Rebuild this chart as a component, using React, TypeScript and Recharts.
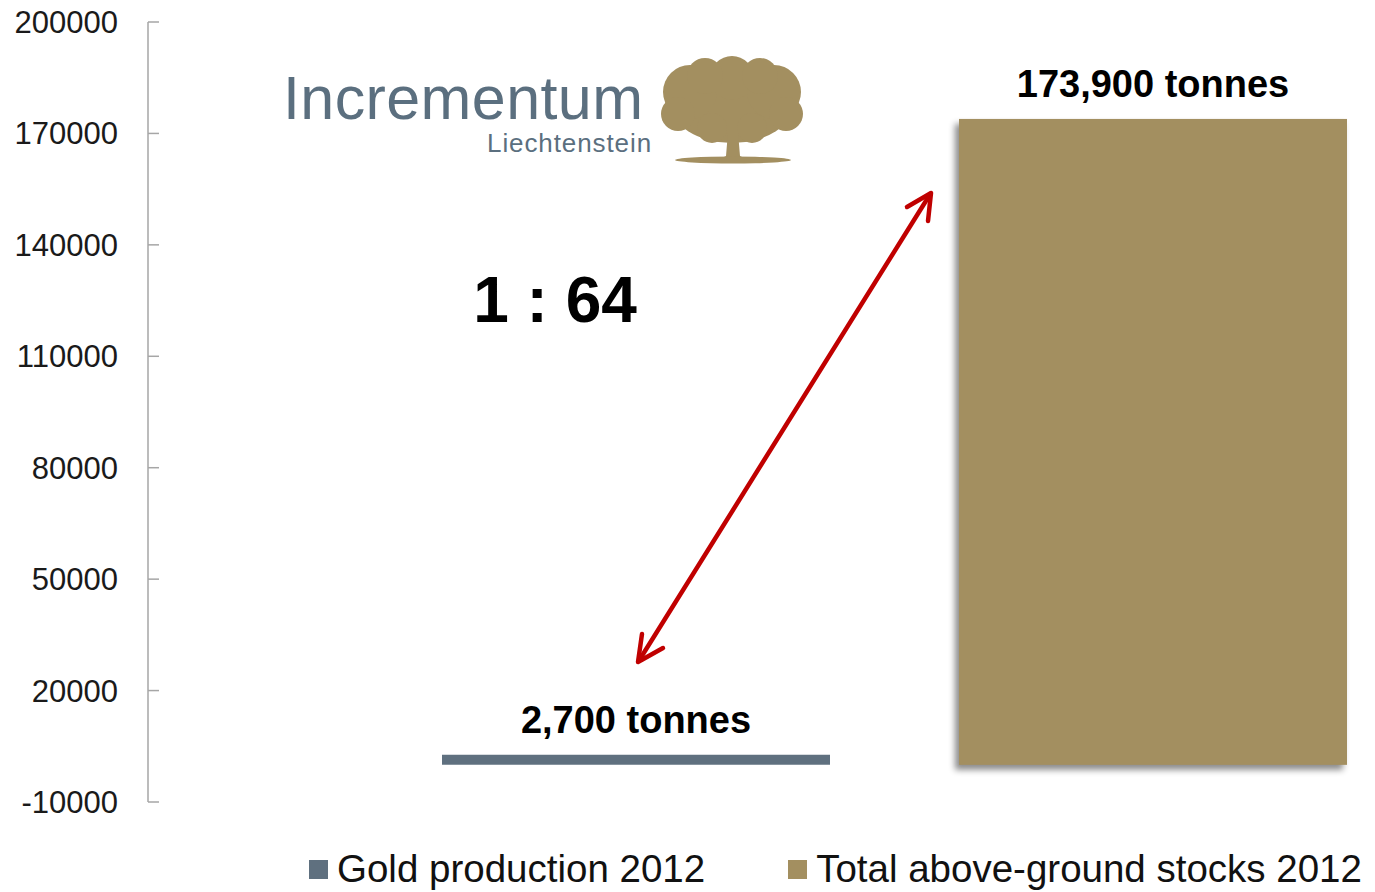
import React from "react";
import { BarChart, Bar, XAxis, YAxis, LabelList, Legend } from "recharts";

const categories = ["2012"];
const productionValues = [2700];
const stockValues = [173900];
const seriesNames = ["Gold production 2012", "Total above-ground stocks 2012"];
const yTicks = [-10000, 20000, 50000, 80000, 110000, 140000, 170000, 200000];
const ratioText = "1 : 64";

const data = categories.map((c, i) => ({
  name: c,
  production: productionValues[i],
  stocks: stockValues[i],
}));

const FONT = "'Liberation Sans', Arial, sans-serif";
const GREY = "#5f707f";
const TAN = "#a38f60";
const AXIS = "#a6a6a6";
const RED = "#c00000";

function YTick({ x, y, payload }: any) {
  return (
    <g>
      <line x1={x + 30} x2={x + 41} y1={y} y2={y} stroke={AXIS} strokeWidth={1.5} />
      <text x={x} y={y} dy={11} textAnchor="end" fontSize={31} fill="#1a1a1a" fontFamily={FONT}>
        {payload.value}
      </text>
    </g>
  );
}

const ShadowBar = (p: any) => (
  <rect
    x={p.x}
    y={p.y}
    width={p.width}
    height={p.height}
    fill={p.fill}
    style={{ filter: "drop-shadow(-4px 5px 3px rgba(0,0,0,0.45))" }}
  />
);

function LegendBox({ payload }: any) {
  return (
    <div style={{ display: "flex", alignItems: "center", height: 40, fontFamily: FONT }}>
      {(payload || []).map((e: any, i: number) => (
        <div key={e.value} style={{ display: "flex", alignItems: "center", marginRight: i === 0 ? 83 : 0 }}>
          <span style={{ width: 19, height: 19, background: e.color, marginRight: 9, display: "inline-block" }} />
          <span style={{ fontSize: 38.5, lineHeight: "40px", color: "#111" }}>{e.value}</span>
        </div>
      ))}
    </div>
  );
}

const fmt = (v: any) => `${Number(v).toLocaleString("en-US")} tonnes`;
const labelStyle = { fontSize: 38, fontWeight: 700, fill: "#000", fontFamily: FONT };

export default function App() {
  return (
    <div style={{ position: "relative", width: 1367, height: 884, fontFamily: FONT, overflow: "hidden" }}>
      <BarChart
        width={1367}
        height={884}
        data={data}
        margin={{ top: 14, right: 0, bottom: 90, left: 0 }}
        barGap={129}
      >
        <XAxis dataKey="name" hide padding={{ left: 265, right: 0 }} />
        <YAxis
          width={140}
          domain={[-10000, 200000]}
          ticks={yTicks}
          interval={0}
          tickSize={0}
          tickMargin={30}
          tickLine={false}
          axisLine={{ stroke: AXIS, strokeWidth: 1.5 }}
          tick={<YTick />}
        />
        <Bar dataKey="production" name={seriesNames[0]} fill={GREY} barSize={388} isAnimationActive={false}>
          <LabelList dataKey="production" position="top" offset={22} formatter={fmt} style={labelStyle} />
        </Bar>
        <Bar
          dataKey="stocks"
          name={seriesNames[1]}
          fill={TAN}
          barSize={388}
          shape={ShadowBar}
          isAnimationActive={false}
        >
          <LabelList dataKey="stocks" position="top" offset={22} formatter={fmt} style={labelStyle} />
        </Bar>
        <Legend
          layout="horizontal"
          verticalAlign="middle"
          align="center"
          wrapperStyle={{ top: 841, left: 301, width: 1060 }}
          content={<LegendBox />}
        />
      </BarChart>

      <svg
        width={1367}
        height={884}
        style={{ position: "absolute", left: 0, top: 0, pointerEvents: "none" }}
      >
        <g transform="translate(-8,-8)">
          {/* logo */}
          <text x={283} y={119} fontSize={61} fill="#5b6f7f" fontFamily={FONT} letterSpacing={0.4}>
            Incrementum
          </text>
          <text x={652} y={152} fontSize={26} fill="#5b6f7f" fontFamily={FONT} textAnchor="end" letterSpacing={0.9}>
            Liechtenstein
          </text>
          <g fill={TAN}>
            <ellipse cx={732} cy={103} rx={62} ry={40} />
            <circle cx={690} cy={92} r={27} />
            <circle cx={774} cy={92} r={27} />
            <circle cx={732} cy={78} r={22} />
            <circle cx={705} cy={76} r={18} />
            <circle cx={760} cy={76} r={18} />
            <circle cx={678} cy={114} r={17} />
            <circle cx={786} cy={114} r={17} />
            <circle cx={712} cy={128} r={15} />
            <circle cx={752} cy={128} r={15} />
            <path d="M728 132 L738 132 L740 156 L748 160 L718 160 L726 156 Z" />
            <ellipse cx={733} cy={160} rx={58} ry={3.5} />
          </g>

          {/* ratio */}
          <text x={555} y={322} fontSize={64} fontWeight={700} textAnchor="middle" fill="#000" fontFamily={FONT}>
            {ratioText}
          </text>

          {/* double arrow */}
          <g stroke={RED} strokeWidth={4.5} fill="none" strokeLinecap="round" strokeLinejoin="round">
            <line x1={640} y1={659} x2={929} y2={196} />
            <polyline points="907,207 931,193 928,221" />
            <polyline points="642,634 638,662 663,648" />
          </g>
        </g>
      </svg>
    </div>
  );
}
